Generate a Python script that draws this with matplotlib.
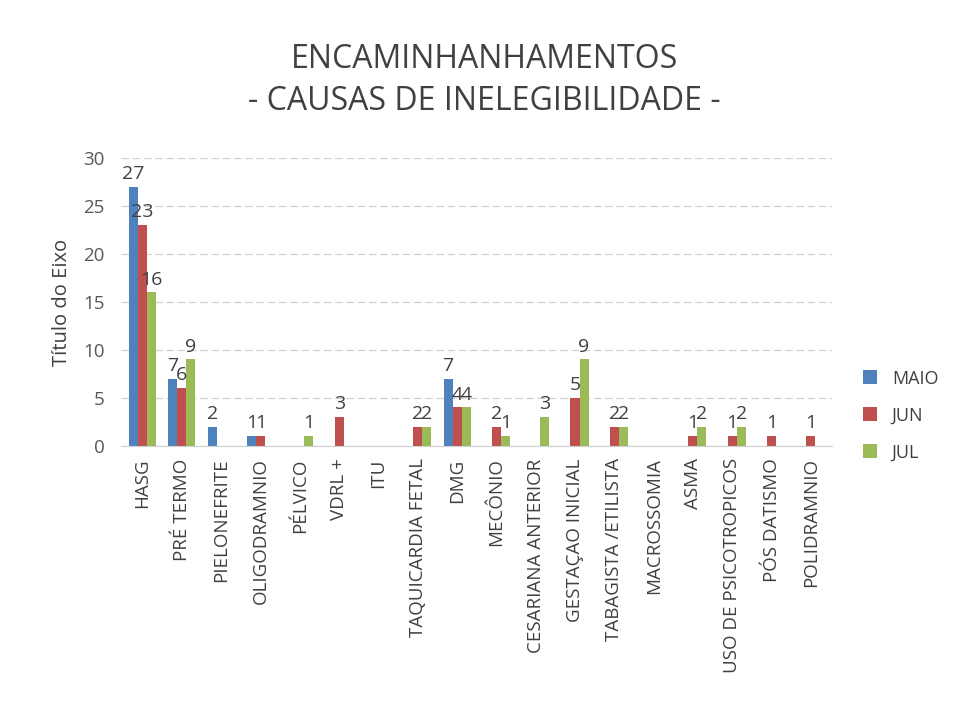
import numpy as np
import matplotlib
matplotlib.use("Agg")
import matplotlib.pyplot as plt

plt.rcParams['font.family'] = ['Open Sans', 'DejaVu Sans']

categorias = ["HASG", "PRÉ TERMO", "PIELONEFRITE", "OLIGODRAMNIO", "PÉLVICO", "VDRL +",
              "ITU", "TAQUICARDIA FETAL", "DMG", "MECÔNIO", "CESARIANA ANTERIOR",
              "GESTAÇAO INICIAL", "TABAGISTA /ETILISTA", "MACROSSOMIA", "ASMA",
              "USO DE PSICOTROPICOS", "PÓS DATISMO", "POLIDRAMNIO"]
n = np.nan
maio = [27, 7, 2, 1, n, n, n, n, 7, n, n, n, n, n, n, n, n, n]
jun = [23, 6, n, 1, n, 3, n, 2, 4, 2, n, 5, 2, n, 1, 1, 1, 1]
jul = [16, 9, n, n, 1, n, n, 2, 4, 1, 3, 9, 2, n, 2, 2, n, n]

series = [("MAIO", maio, "#4F81BD"), ("JUN", jun, "#C0504D"), ("JUL", jul, "#9BBB59")]

fig = plt.figure(figsize=(9.68, 7.19), dpi=100)
ax = fig.add_axes([0.125, 0.38, 0.735, 0.40])

x = np.arange(len(categorias))
w = 0.23
for i, (nome, vals, cor) in enumerate(series):
    pos = x + (i - 1) * w
    ax.bar(pos, vals, w, color=cor, label=nome)
    for p, v in zip(pos, vals):
        if not np.isnan(v):
            ax.text(p, v + 0.4, f"{int(v)}", ha='center', va='bottom', fontsize=14, color='#404040')

ax.set_ylim(0, 30)
ax.set_xlim(-0.55, len(categorias) - 0.45)
ax.set_yticks(range(0, 31, 5))
ax.set_xticks(x)
ax.set_xticklabels(categorias, rotation=90, fontsize=13.5, color='#404040')
ax.tick_params(axis='y', labelsize=13.5, colors='#595959', length=0, pad=12)
ax.tick_params(axis='x', length=0, pad=9)
ax.yaxis.grid(True, color='#d0d0d0', linestyle=(0, (6, 3)), linewidth=0.9)
ax.set_axisbelow(True)
for s in ['top', 'right', 'left']:
    ax.spines[s].set_visible(False)
ax.spines['bottom'].set_color('#d0d0d0')
ax.set_ylabel("Título do Eixo", fontsize=14.5, color='#404040', labelpad=8)

ax.legend(loc='center left', bbox_to_anchor=(1.02, 0.105), frameon=False, fontsize=13,
          handlelength=0.8, handleheight=0.8, labelspacing=1.05, labelcolor='#404040')

fig.suptitle("ENCAMINHANHAMENTOS\n- CAUSAS DE INELEGIBILIDADE -", y=0.94, fontsize=23,
             color='#404040', linespacing=1.35)

fig.savefig("out.png", dpi=100, facecolor='white')
